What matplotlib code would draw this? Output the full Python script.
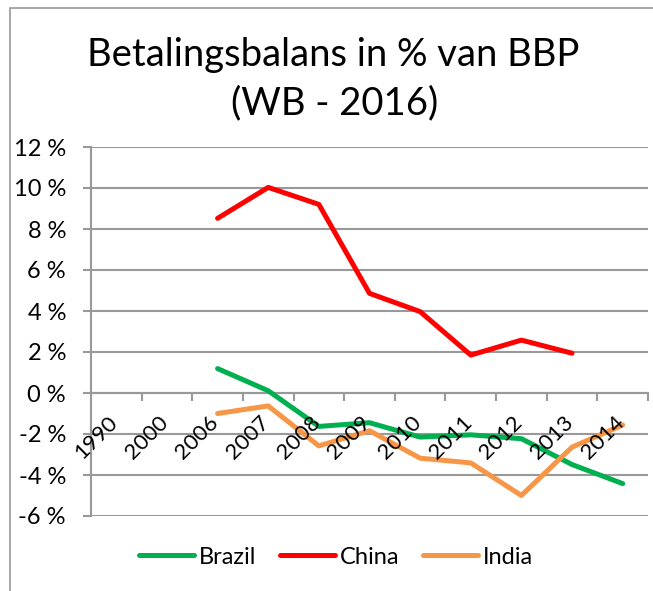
import numpy as np
from matplotlib import pyplot as plt
from matplotlib.patches import Rectangle

plt.rcParams['font.family'] = ['Lato', 'DejaVu Sans']

###データ
years = ["1990", "2000", "2006", "2007", "2008", "2009", "2010", "2011", "2012", "2013", "2014"]
brazil = [np.nan, np.nan, 1.19, 0.11, -1.63, -1.45, -2.15, -2.04, -2.23, -3.49, -4.42]
china = [np.nan, np.nan, 8.52, 10.03, 9.2, 4.86, 3.97, 1.85, 2.58, 1.94, np.nan]
india = [np.nan, np.nan, -1.0, -0.63, -2.58, -1.84, -3.18, -3.41, -5.0, -2.64, -1.56]
yticks = [-6, -4, -2, 0, 2, 4, 6, 8, 10, 12]

grey = "#999999"
fs = 17

fig = plt.figure(figsize=(6.53, 5.91), dpi=100)
ax = fig.add_axes([91/653, 75/591, 557/653, 369/591])

x = np.arange(len(years)) + 0.5
ax.plot(x, brazil, color="#00B050", lw=3.6, solid_capstyle="round", solid_joinstyle="round", label="Brazil")
ax.plot(x, china, color="#FF0000", lw=3.6, solid_capstyle="round", solid_joinstyle="round", label="China")
ax.plot(x, india, color="#F79646", lw=3.6, solid_capstyle="round", solid_joinstyle="round", label="India")

ax.set_xlim(0, len(years))
ax.set_ylim(-6, 12)
ax.set_yticks(yticks)
ax.set_yticklabels([str(v) + " %" for v in yticks], fontsize=fs)
ax.yaxis.grid(True, color=grey, lw=1.5)
ax.set_axisbelow(True)
# 年のラベルは線の上に
ax.xaxis.set_zorder(3)

ax.spines["top"].set_visible(False)
ax.spines["right"].set_visible(False)
ax.spines["left"].set_color(grey)
ax.spines["left"].set_linewidth(1.5)
ax.spines["bottom"].set_position(("data", 0))
ax.spines["bottom"].set_color(grey)
ax.spines["bottom"].set_linewidth(1.5)
ax.spines["bottom"].set_zorder(0.5)
ax.spines["left"].set_zorder(0.5)

# ラベルはカテゴリ中心より少し右
ax.set_xticks(np.arange(len(years) + 1))
ax.set_xticklabels([])
ax.set_xticks(x + 0.1, minor=True)
ax.set_xticklabels(years, minor=True, fontsize=16, rotation=45, ha="right", va="top")
ax.tick_params(axis="x", which="major", length=6, width=1.5, color=grey, direction="out")
ax.tick_params(axis="x", which="minor", length=0, pad=14)
ax.tick_params(axis="y", length=6, width=1.5, color=grey, pad=12)

fig.text(0.511, 1 - 55/591, "Betalingsbalans in % van BBP", ha="center", va="center", fontsize=27.5)
fig.text(0.513, 1 - 103/591, "(WB - 2016)", ha="center", va="center", fontsize=27.5)

fig.legend(loc="center", bbox_to_anchor=(0.5145, 1 - 557/591), ncol=3, frameon=False, fontsize=fs,
           handlelength=2.33, handletextpad=0.2, columnspacing=1.0)

# 外枠
fig.patches.append(Rectangle((10/653, -0.1), 1.2, (591 - 8)/591 + 0.1, transform=fig.transFigure,
                             fill=False, edgecolor=grey, lw=1.2))

fig.savefig("out.png", dpi=100)
